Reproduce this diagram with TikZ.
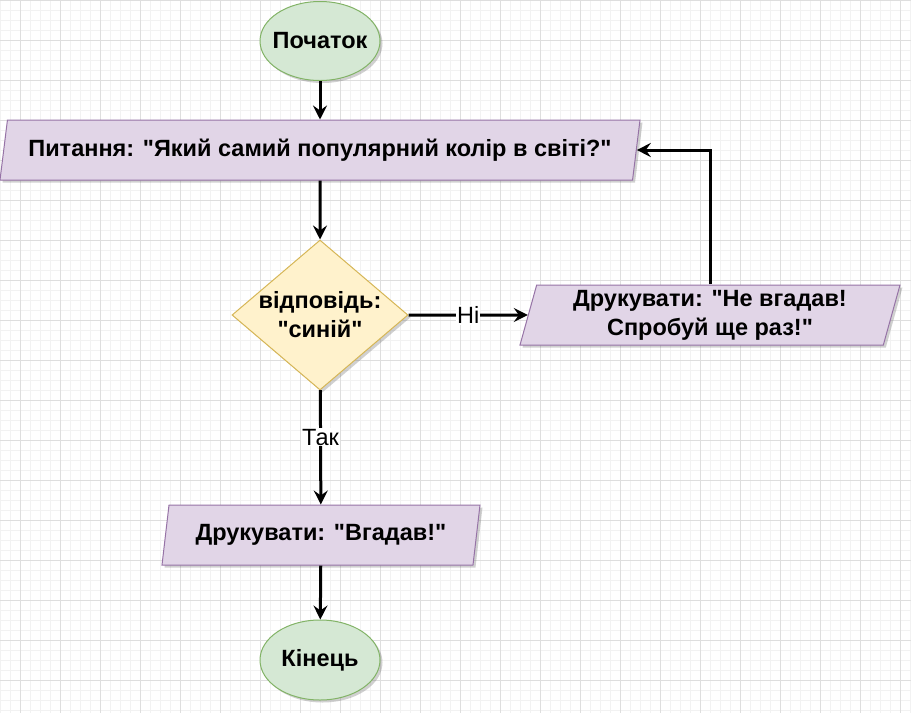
\documentclass[tikz,border=0pt]{standalone}
\usepackage{fontspec}
\setmainfont{Liberation Sans}[Ligatures=TeXOff]
\usetikzlibrary{shapes.geometric, arrows.meta, shadows}
\definecolor{termfill}{HTML}{D5E8D4}
\definecolor{termline}{HTML}{82B366}
\definecolor{iofill}{HTML}{E1D5E7}
\definecolor{ioline}{HTML}{9673A6}
\definecolor{testfill}{HTML}{FFF2CC}
\definecolor{testline}{HTML}{D6B656}
\tikzset{
	minor grid/.style={draw=black!5, line width=1pt},
	major grid/.style={draw=black!13, line width=1pt},
	box shadow/.style={drop shadow={shadow xshift=2.5pt, shadow yshift=-2.5pt, opacity=0.3, fill=black!60}},
	term node/.style={ellipse, draw=termline, fill=termfill, line width=1pt, minimum width=120pt, minimum height=79pt, inner sep=-8pt, box shadow, font=\fontsize{23.5}{28}\selectfont\bfseries},
	io node/.style={trapezium, trapezium left angle=71.57, trapezium right angle=108.43, trapezium stretches body, draw=ioline, fill=iofill, line width=1pt, minimum height=60pt, inner sep=0pt, box shadow, align=center, font=\fontsize{23.5}{29}\selectfont\bfseries},
	test node/.style={diamond, aspect=1.1667, draw=testline, fill=testfill, line width=1pt, minimum width=176pt, minimum height=150pt, inner sep=-5pt, box shadow, align=center, font=\fontsize{23.5}{29}\selectfont\bfseries},
	flow/.style={-{Stealth[length=14pt, width=14pt, inset=5pt]}, line width=3pt},
	answer/.style={fill=white, inner sep=1pt, font=\fontsize{23.5}{28}\selectfont},
}

\begin{document}
\begin{tikzpicture}[x=1pt, y=-1pt]
  \useasboundingbox (0,0) rectangle (911,713);
  \fill[white] (0,0) rectangle (911,713);
  \foreach \x in {0,10,...,910} \draw[minor grid] (\x,0) -- (\x,713);
  \foreach \y in {0,10,...,710} \draw[minor grid] (0,\y) -- (911,\y);
  \foreach \x in {20,60,...,900} \draw[major grid] (\x,0) -- (\x,713);
  \foreach \y in {0,40,...,700} \draw[major grid] (0,\y) -- (911,\y);

  \node[term node] (start) at (320,41) {Початок};
  \node[io node, minimum width=640pt] (question) at (320,150) {Питання: "Який самий популярний колір в світі?"};
  \node[test node] (check) at (320,315) {відповідь:\\"синій"};
  \node[io node, minimum width=380pt] (retry) at (710,315) {Друкувати: "Не вгадав!\\Спробуй ще раз!"};
  \node[io node, minimum width=318pt] (win) at (321,535) {Друкувати: "Вгадав!"};
  \node[term node, minimum height=80pt] (end) at (320,660) {Кінець};

  \draw[flow] (start) -- (question);
  \draw[flow] (question) -- (check);
  \draw[flow] (check) -- node[answer, pos=0.5] {Ні} (retry);
  \draw[flow] (retry.north) |- (question.east);
  \draw[flow] (check) -- node[answer, pos=0.41] {Так} (win);
  \draw[flow] (win) -- (end);
\end{tikzpicture}
\end{document}
